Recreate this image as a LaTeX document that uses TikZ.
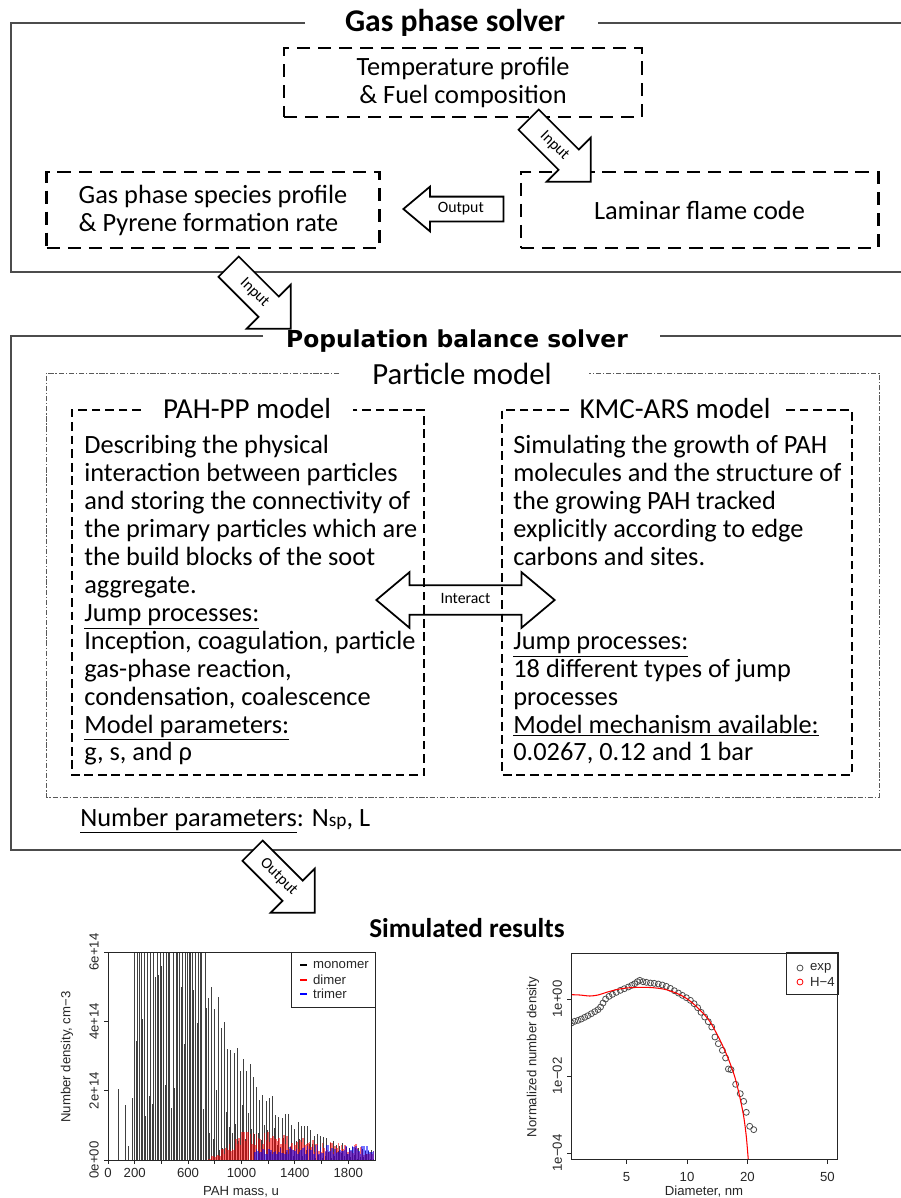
\documentclass[tikz,border=0pt]{standalone}
\usepackage{fontspec}
\setmainfont{Carlito}
\newfontfamily\popfont{DejaVu Sans}
\newfontfamily\plotfont{Liberation Sans}
\usetikzlibrary{shapes.arrows}

\newcommand{\bodysize}{\fontsize{15pt}{15.9pt}\selectfont}
\newcommand{\arrowsize}{\fontsize{9pt}{10pt}\selectfont}
\newcommand{\plotsize}{\plotfont\fontsize{7.5pt}{8pt}\selectfont}

\tikzset{
  solverframe/.style={line width=0.6pt, black!70},
  soltitle/.style={font={\fontsize{18pt}{20pt}\selectfont\bfseries}, inner sep=0pt},
  gasbox/.style={draw, line width=1.4pt, dash pattern=on 7.5pt off 4.5pt, font=\bodysize, align=left},
  modelbox/.style={line width=1.1pt, dash pattern=on 5pt off 2.7pt},
  modeltitle/.style={font={\fontsize{16.5pt}{18pt}\selectfont}, inner sep=0pt},
  particleframe/.style={line width=0.5pt, black!65, dash pattern=on 3pt off 1pt on 0.8pt off 1pt},
  bodytext/.style={font=\bodysize, align=left, inner sep=0pt, anchor=north west},
  blockarrow/.style={draw, line width=1pt, font=\arrowsize, text height=6pt, text depth=1.5pt, inner xsep=1pt},
  inarrow/.style={blockarrow, single arrow, fill=white, inner ysep=3.9pt, minimum height=50pt,
    single arrow head extend=9.6pt, single arrow tip angle=90, rotate=-45, anchor=tail},
  outarrow/.style={blockarrow, single arrow, shape border rotate=180, inner ysep=2.8pt, minimum height=57pt,
    single arrow head extend=5.7pt, single arrow tip angle=80, anchor=tip},
  interarrow/.style={blockarrow, double arrow, inner ysep=4.2pt, minimum height=101.5pt,
    double arrow head extend=7.4pt, double arrow tip angle=80},
  plotframe/.style={line width=0.5pt, black!85},
  ticklab/.style={font=\plotsize, inner sep=1pt, black!85},
  monobar/.style={black!75, line width=0.55pt},
  dimerbar/.style={red, opacity=0.55, line width=0.9pt},
  trimerbar/.style={blue, opacity=0.55, line width=0.9pt},
  expmark/.style={black!70, line width=0.45pt}
}

\begin{document}
\begin{tikzpicture}[x=0.02cm, y=-0.02cm]
\useasboundingbox (0,0) rectangle (901,1198);

% gas phase solver
\node[soltitle] (gastitle) at (455,23) {Gas phase solver};
\draw[solverframe] (305,23) -- (11,23) -- (11,272) -- (901,272);
\draw[solverframe] (598,23) -- (901,23);

\node[gasbox, align=center, minimum width=204pt, minimum height=39pt] (tempfuel) at (463,82.5) {Temperature profile\\ \& Fuel composition};
\node[gasbox, minimum width=189.3pt, minimum height=43pt] (species) at (213,210) {Gas phase species profile\\ \& Pyrene formation rate};
\node[gasbox, minimum width=203.5pt, minimum height=43pt] (flame) at (699.5,210) {Laminar flame code};

\node[inarrow] (input1) at (528,119) {Input};
\node[outarrow] (output1) at (402,209) {Output};
\node[inarrow] (input2) at (228,266) {Input};

% population balance solver
\node[font={\popfont\fontsize{13.3pt}{15pt}\selectfont\bfseries}, inner sep=0pt] (poptitle) at (457,341) {Population balance solver};
\draw[solverframe] (263,336) -- (11,336) -- (11,850) -- (901,850);
\draw[solverframe] (660,336) -- (901,336);

\node[font={\fontsize{17.5pt}{19pt}\selectfont}, inner sep=0pt] (parttitle) at (462,374) {Particle model};
\draw[particleframe] (339,373) -- (46,373) -- (46,797) -- (879,797) -- (879,373) -- (589,373);

\node[modeltitle] (pahtitle) at (247,409) {PAH-PP model};
\draw[modelbox] (141,410) -- (72,410) -- (72,775) -- (424,775) -- (424,410) -- (353,410);
\node[modeltitle] (kmctitle) at (675,409) {KMC-ARS model};
\draw[modelbox] (569,410) -- (502,410) -- (502,775) -- (852,775) -- (852,410) -- (784,410);

\node[bodytext] (pahtext) at (84,435) {Describing the physical\\
interaction between particles\\
and storing the connectivity of\\
the primary particles which are\\
the build blocks of the soot\\
aggregate.\\
\underline{Jump processes:}\\
Inception, coagulation, particle\\
gas-phase reaction,\\
condensation, coalescence\\
\underline{Model parameters:}\\
g, s, and ρ};

\node[bodytext] (kmctext) at (513,435) {Simulating the growth of PAH\\
molecules and the structure of\\
the growing PAH tracked\\
explicitly according to edge\\
carbons and sites.\\
\mbox{}\\
\mbox{}\\
\underline{Jump processes:}\\
18 different types of jump\\
processes\\
\underline{Model mechanism available:}\\
0.0267, 0.12 and 1 bar};

\node[interarrow] (interact) at (465.5,600) {Interact};

\node[bodytext, anchor=base west] (numpar) at (80,826) {\underline{Number parameters}: N{\fontsize{11pt}{12pt}\selectfont sp}, L};

\node[inarrow] (output2) at (252,850) {Output};

\node[font={\fontsize{15.5pt}{17pt}\selectfont\bfseries}, inner sep=0pt] (results) at (467,928) {Simulated results};

% left plot: PAH mass spectrum
\pgfmathsetseed{7}
\begin{scope}[shift={(108,1160)}, x=0.00267cm, y=0.6933cm]
  \begin{scope}
    \clip (0,0) rectangle (2000,6);
    \foreach \m/\h in {82/2.05, 134/1.6, 156/0.4, 180/1.8}
      \draw[monobar] (\m,0) -- (\m,\h);
    \foreach \m [count=\k] in {200,212,...,1988} {
      \pgfmathsetmacro\env{\m<750 ? 12 : 6*exp(-(\m-750)/400)}
      \pgfmathsetmacro\h{\env*(isodd(\k) ? 0.75+0.3*rnd : 0.05+0.5*rnd)}
      \draw[monobar] (\m,0) -- (\m,\h);
    }
    \foreach \m in {754,766,...,1994} {
      \pgfmathsetmacro\env{\m<1050 ? 0.95*(\m-740)/310 : 0.95*exp(-(\m-1050)/1100)}
      \pgfmathsetmacro\h{\env*(0.35+0.65*rnd)}
      \draw[dimerbar] (\m,0) -- (\m,\h);
    }
    \foreach \m in {1100,1112,...,1996} {
      \pgfmathsetmacro\h{0.45*(0.3+0.7*rnd)}
      \draw[trimerbar] (\m,0) -- (\m,\h);
    }
  \end{scope}
  \draw[plotframe] (0,0) rectangle (2000,6);
  \foreach \t in {0,200,...,1800}
    \draw[plotframe] (\t,0) -- ([yshift=-2.5pt]\t,0);
  \foreach \t in {0,200,600,1000,1400,1800}
    \node[ticklab, anchor=north] (mx\t) at ([yshift=-3.5pt]\t,0) {\t};
  \foreach \v/\t in {0/0e+00,2/2e+14,4/4e+14,6/6e+14} {
    \draw[plotframe] (0,\v) -- ([xshift=-2.5pt]0,\v);
    \node[ticklab, rotate=90, anchor=south] (my\v) at ([xshift=-4pt]0,\v) {\t};
  }
\end{scope}
\node[ticklab, rotate=90] (mylabel) at (67,1057) {Number density, cm−3};
\node[ticklab] (mxlabel) at (241,1192) {PAH mass, u};
\draw[plotframe] (291,952) rectangle (375,1007);
\foreach \c/\t/\yy in {black/monomer/965, red/dimer/980, blue/trimer/994} {
  \draw[\c, line width=0.6pt] (300,\yy) -- (307,\yy);
  \node[ticklab, anchor=west] (leg\t) at (311,\yy) {\t};
}

% right plot: size distribution
\begin{scope}[shift={(687,999)}, x=4.02cm, y=0.77cm]
  \begin{scope}
    \clip (-0.577,-4.18) rectangle (0.751,1.195);
    \foreach \a/\b in {-0.575/-0.623, -0.559/-0.580, -0.542/-0.554, -0.526/-0.519, -0.509/-0.476,
      -0.493/-0.433, -0.476/-0.381, -0.459/-0.329, -0.443/-0.277, -0.430/-0.208, -0.418/-0.104,
      -0.405/0.000, -0.388/0.069, -0.371/0.121, -0.352/0.173, -0.332/0.225, -0.312/0.268,
      -0.292/0.312, -0.275/0.355, -0.260/0.398, -0.247/0.450, -0.235/0.485, -0.219/0.450,
      -0.202/0.433, -0.182/0.416, -0.163/0.407, -0.143/0.390, -0.123/0.364, -0.103/0.329,
      -0.083/0.277, -0.063/0.216, -0.043/0.156, -0.023/0.095, -0.003/0.035, 0.017/-0.035,
      0.035/-0.121, 0.053/-0.225, 0.070/-0.346, 0.088/-0.468, 0.106/-0.589, 0.123/-0.727,
      0.139/-0.987, 0.156/-1.160, 0.176/-1.333, 0.192/-1.532, 0.206/-1.818, 0.219/-1.835,
      0.242/-2.216, 0.265/-2.459, 0.282/-2.658, 0.295/-2.944, 0.312/-3.307, 0.332/-3.394}
      \draw[expmark] (\a,\b) circle[radius=1.7pt];
    \draw[red, line width=0.6pt] plot[smooth] coordinates {(-0.580,0.113) (-0.534,0.104) (-0.484,0.078)
      (-0.443,0.104) (-0.401,0.173) (-0.352,0.242) (-0.302,0.286) (-0.235,0.303) (-0.169,0.294)
      (-0.103,0.242) (-0.036,0.113) (0.013,-0.043) (0.063,-0.277) (0.113,-0.580) (0.163,-1.056)
      (0.204,-1.532) (0.237,-2.009) (0.262,-2.528) (0.282,-3.048) (0.295,-3.567) (0.305,-4.173) (0.31,-4.5)};
  \end{scope}
  \draw[plotframe] (-0.577,-4.18) rectangle (0.751,1.195);
  \foreach \a/\t in {-0.301/5, 0/10, 0.301/20, 0.699/50} {
    \draw[plotframe] (\a,-4.18) -- ([yshift=-2.5pt]\a,-4.18);
    \node[ticklab, anchor=north] (dx\t) at ([yshift=-6pt]\a,-4.18) {\t};
  }
  \foreach \b/\t in {0/1e+00, -2/1e−02, -4/1e−04} {
    \draw[plotframe] (-0.577,\b) -- ([xshift=-2.5pt]-0.577,\b);
    \node[ticklab, rotate=90, anchor=south] (dy\t) at ([xshift=-4pt]-0.577,\b) {\t};
  }
\end{scope}
\node[ticklab, rotate=90] (dylabel) at (533,1057) {Normalized number density};
\node[ticklab] (dxlabel) at (704,1192) {Diameter, nm};
\draw[plotframe] (786,952) rectangle (838,994);
\draw[expmark] (800,968) circle[radius=1.7pt];
\draw[red, line width=0.45pt] (800,982) circle[radius=1.7pt];
\node[ticklab, anchor=west] (legexp) at (808,968) {exp};
\node[ticklab, anchor=west] (legh) at (808,982) {H−4};
\end{tikzpicture}
\end{document}
